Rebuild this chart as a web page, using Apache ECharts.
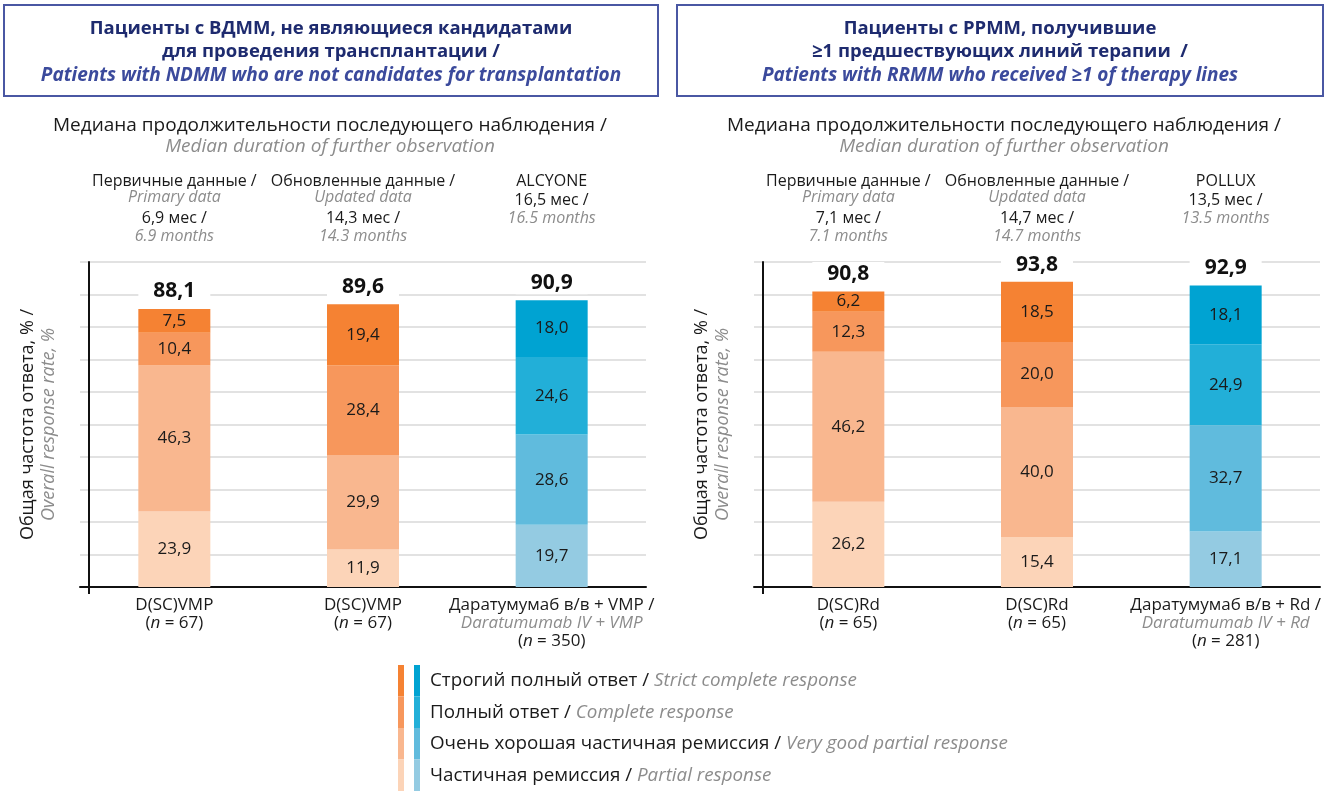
<!DOCTYPE html>
<html>
<head>
<meta charset="utf-8">
<script src="https://cdn.jsdelivr.net/npm/echarts@6/dist/echarts.min.js"></script>
<style>
  html, body { margin: 0; padding: 0; background: #ffffff; }
  #chart { width: 1328px; height: 791px; }
</style>
</head>
<body>
<div id="chart"></div>
<script>
// ---- data ----
const levels = [
  'Строгий полный ответ / Strict complete response',
  'Полный ответ / Complete response',
  'Очень хорошая частичная ремиссия / Very good partial response',
  'Частичная ремиссия / Partial response'
];

// left panel: NDMM, not transplant candidates
const leftNames = ['D(SC)VMP', 'D(SC)VMP', 'Даратумумаб в/в + VMP /'];
const leftNamesEn = ['', '', 'Daratumumab IV + VMP'];
const leftN = [67, 67, 350];
const leftSCR = [7.5, 19.4, 18.0];
const leftCR = [10.4, 28.4, 24.6];
const leftVGPR = [46.3, 29.9, 28.6];
const leftPR = [23.9, 11.9, 19.7];
const leftTotal = [88.1, 89.6, 90.9];
const leftCombo = [false, false, true];
const leftFollowRu = ['Первичные данные /', 'Обновленные данные /', 'ALCYONE'];
const leftFollowEn = ['Primary data', 'Updated data', ''];
const leftMonthsRu = ['6,9 мес /', '14,3 мес /', '16,5 мес /'];
const leftMonthsEn = ['6.9 months', '14.3 months', '16.5 months'];

// right panel: RRMM, ≥1 prior line
const rightNames = ['D(SC)Rd', 'D(SC)Rd', 'Даратумумаб в/в + Rd /'];
const rightNamesEn = ['', '', 'Daratumumab IV + Rd'];
const rightN = [65, 65, 281];
const rightSCR = [6.2, 18.5, 18.1];
const rightCR = [12.3, 20.0, 24.9];
const rightVGPR = [46.2, 40.0, 32.7];
const rightPR = [26.2, 15.4, 17.1];
const rightTotal = [90.8, 93.8, 92.9];
const rightCombo = [false, false, true];
const rightFollowRu = ['Первичные данные /', 'Обновленные данные /', 'POLLUX'];
const rightFollowEn = ['Primary data', 'Updated data', ''];
const rightMonthsRu = ['7,1 мес /', '14,7 мес /', '13,5 мес /'];
const rightMonthsEn = ['7.1 months', '14.7 months', '13.5 months'];

// ---- styles ----
const FONT = '"Open Sans", "Noto Sans", sans-serif';
const INK = '#1a1a1a';
const GREY = '#8c8c8c';
const NAVY = '#1e2b6f';
const NAVY_IT = '#3b4a9c';
const orange = ['#f58233', '#f7975c', '#f9b78f', '#fcd4b8'];
const blue = ['#00a3d2', '#22afd8', '#60bbdd', '#94cbe2'];

const fmt = v => v.toFixed(1).replace('.', ',');

function panelSeries(idx, segs, totals, combo) {
  const out = [];
  // stack from the bottom: PR, VGPR, CR, sCR
  [3, 2, 1, 0].forEach(k => {
    out.push({
      name: levels[k],
      type: 'bar',
      xAxisIndex: idx, yAxisIndex: idx,
      stack: 'resp' + idx,
      barWidth: 72,
      barGap: '-100%',
      data: segs[k].map((v, i) => ({
        value: v,
        itemStyle: { color: combo[i] ? blue[k] : orange[k] }
      })),
      label: {
        show: true, position: 'inside',
        formatter: p => fmt(p.value),
        fontFamily: FONT, fontSize: 17, color: INK
      },
      emphasis: { disabled: true }
    });
  });
  out.push({
    name: 'total' + idx,
    type: 'bar',
    xAxisIndex: idx, yAxisIndex: idx,
    barWidth: 72,
    barGap: '-100%',
    data: totals,
    itemStyle: { color: 'rgba(0,0,0,0)' },
    label: {
      show: true, position: 'top', distance: 6,
      formatter: p => fmt(p.value),
      fontFamily: FONT, fontSize: 21, fontWeight: 'bold', color: '#111',
      backgroundColor: '#ffffff', width: 72, align: 'center',
      padding: [2, 0, 1, 0]
    },
    emphasis: { disabled: true },
    z: 1
  });
  return out;
}

const catRich = {
  a: { fontFamily: FONT, fontSize: 17, color: INK, lineHeight: 18 },
  g: { fontFamily: FONT, fontSize: 17, color: GREY, fontStyle: 'italic', lineHeight: 18 },
  i: { fontFamily: FONT, fontSize: 17, color: INK, fontStyle: 'italic', lineHeight: 18 }
};
function catFormatter(names, namesEn, ns) {
  return (v, i) => {
    const lines = ['{a|' + names[i] + '}'];
    if (namesEn[i]) lines.push('{g|' + namesEn[i] + '}');
    lines.push('{a|(}{i|n}{a| = ' + ns[i] + ')}');
    return lines.join('\n');
  };
}

const nameRich = {
  a: { fontFamily: FONT, fontSize: 18, color: INK, lineHeight: 21 },
  b: { fontFamily: FONT, fontSize: 18, color: GREY, fontStyle: 'italic', lineHeight: 21 }
};

function xAxisFor(idx, names, namesEn, ns) {
  return {
    type: 'category', gridIndex: idx, data: names,
    axisLine: { show: true, lineStyle: { color: '#111', width: 2 } },
    axisTick: { show: false },
    axisLabel: {
      interval: 0, margin: 9,
      formatter: catFormatter(names, namesEn, ns),
      rich: catRich
    }
  };
}
function yAxisFor(idx, max, step) {
  return {
    type: 'value', gridIndex: idx, min: 0, max: max, interval: step,
    offset: -9,
    axisLine: { show: true, lineStyle: { color: '#111', width: 2 } },
    axisTick: { show: false },
    axisLabel: { show: false },
    splitLine: { show: true, lineStyle: { color: '#d9d9d9', width: 1.5 } },
    name: '{a|Общая частота ответа, % /}\n{b|Overall response rate, %}',
    nameLocation: 'middle', nameRotate: 90, nameGap: 30,
    nameTextStyle: { rich: nameRich }
  };
}

const legendRich = {
  r: { fontFamily: FONT, fontSize: 18.8, color: INK, padding: [0, 0, 0, 5] },
  e: { fontFamily: FONT, fontSize: 18.8, color: GREY, fontStyle: 'italic' }
};
const legendOrder = [0, 1, 2, 3];

const chart = echarts.init(document.getElementById('chart'), null, { renderer: 'canvas' });

chart.setOption({
  backgroundColor: '#ffffff',
  animation: false,
  textStyle: { fontFamily: FONT },
  grid: [
    { left: 80, top: 262, width: 566, height: 325 },
    { left: 754, top: 262, width: 566, height: 325 }
  ],
  xAxis: [
    xAxisFor(0, leftNames, leftNamesEn, leftN),
    xAxisFor(1, rightNames, rightNamesEn, rightN)
  ],
  yAxis: [
    yAxisFor(0, 103, 10.3),
    yAxisFor(1, 100, 10)
  ],
  legend: [
    {
      orient: 'vertical', left: 398, top: 665, padding: 0,
      icon: 'rect', itemWidth: 6, itemHeight: 31.5, itemGap: 0,
      selectedMode: false,
      data: legendOrder.map(k => ({ name: levels[k], itemStyle: { color: orange[k], borderWidth: 0 } })),
      formatter: () => ''
    },
    {
      orient: 'vertical', left: 414, top: 665, padding: 0,
      icon: 'rect', itemWidth: 6, itemHeight: 31.5, itemGap: 0,
      selectedMode: false,
      data: legendOrder.map(k => ({ name: levels[k], itemStyle: { color: blue[k], borderWidth: 0 } })),
      formatter: name => {
        const [ru, en] = name.split(' / ');
        return '{r|' + ru + ' / }{e|' + en + '}';
      },
      textStyle: { rich: legendRich }
    }
  ],
  series: [
    ...panelSeries(0, [leftSCR, leftCR, leftVGPR, leftPR], leftTotal, leftCombo),
    ...panelSeries(1, [rightSCR, rightCR, rightVGPR, rightPR], rightTotal, rightCombo)
  ]
});

// ---- headers and per-column notes, placed over the bar columns ----
function textEl(x, y, text, size, color, italic, weight) {
  return {
    type: 'text', silent: true,
    style: {
      x: x, y: y, text: text, align: 'center', verticalAlign: 'middle',
      fontFamily: FONT, fontSize: size, fill: color,
      fontStyle: italic ? 'italic' : 'normal', fontWeight: weight || 'normal'
    }
  };
}

const graphics = [];

// framed panel titles
const boxes = [
  { x: 4, w: 654, lines: ['Пациенты с ВДММ, не являющиеся кандидатами', 'для проведения трансплантации /'], en: 'Patients with NDMM who are not candidates for transplantation' },
  { x: 677, w: 646, lines: ['Пациенты с РРММ, получившие', '≥1 предшествующих линий терапии  /'], en: 'Patients with RRMM who received ≥1 of therapy lines' }
];
boxes.forEach(b => {
  graphics.push({
    type: 'rect', silent: true,
    shape: { x: b.x, y: 5, width: b.w, height: 91 },
    style: { fill: '#ffffff', stroke: '#4a57a3', lineWidth: 2 }
  });
  const cx = b.x + b.w / 2;
  graphics.push(textEl(cx, 29, b.lines[0], 18.5, NAVY, false, 'bold'));
  graphics.push(textEl(cx, 52, b.lines[1], 18.5, NAVY, false, 'bold'));
  graphics.push(textEl(cx, 76, b.en, 19, NAVY_IT, true, 'bold'));
});

function panelNotes(axisIdx, followRu, followEn, monthsRu, monthsEn) {
  const first = chart.convertToPixel({ xAxisIndex: axisIdx }, 0);
  const last = chart.convertToPixel({ xAxisIndex: axisIdx }, 2);
  const mid = (first + last) / 2 - 33;
  graphics.push(textEl(mid, 126, 'Медиана продолжительности последующего наблюдения /', 19, INK));
  graphics.push(textEl(mid, 147, 'Median duration of further observation', 19, GREY, true));
  for (let i = 0; i < followRu.length; i++) {
    const x = chart.convertToPixel({ xAxisIndex: axisIdx }, i);
    graphics.push(textEl(x, 181, followRu[i], 16, INK));
    if (followEn[i]) {
      graphics.push(textEl(x, 197, followEn[i], 16, GREY, true));
      graphics.push(textEl(x, 218, monthsRu[i], 16, INK));
      graphics.push(textEl(x, 236, monthsEn[i], 16, GREY, true));
    } else {
      graphics.push(textEl(x, 200, monthsRu[i], 16, INK));
      graphics.push(textEl(x, 218, monthsEn[i], 16, GREY, true));
    }
  }
  // short extension of the value axis below the category axis
  const ax = chart.convertToPixel({ gridIndex: axisIdx }, [0, 0]);
  const axisX = axisIdx === 0 ? 89 : 763;
  graphics.push({
    type: 'line', silent: true,
    shape: { x1: axisX, y1: ax[1], x2: axisX, y2: ax[1] + 7 },
    style: { stroke: '#111', lineWidth: 2 }
  });
}
panelNotes(0, leftFollowRu, leftFollowEn, leftMonthsRu, leftMonthsEn);
panelNotes(1, rightFollowRu, rightFollowEn, rightMonthsRu, rightMonthsEn);

chart.setOption({ graphic: graphics });
</script>
</body>
</html>
